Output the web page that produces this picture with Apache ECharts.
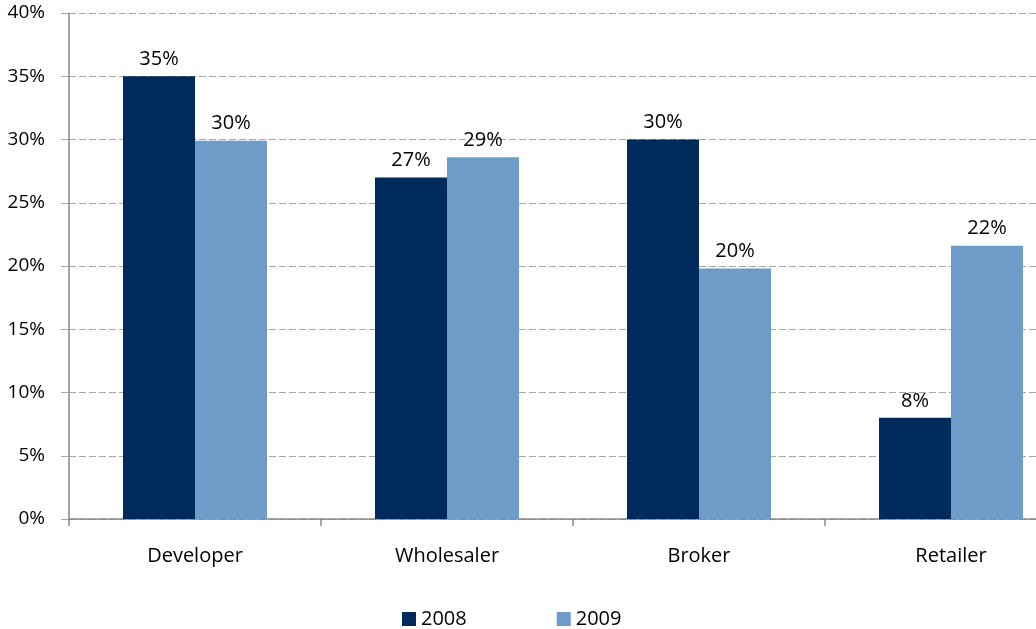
<!DOCTYPE html>
<html>
<head>
<meta charset="utf-8">
<script src="https://cdn.jsdelivr.net/npm/echarts@6/dist/echarts.min.js"></script>
<style>
  html, body { margin: 0; padding: 0; background: #fff; }
  #chart { width: 1036px; height: 629px; }
</style>
</head>
<body>
<div id="chart"></div>
<script>
// chart data
const categories = ['Developer', 'Wholesaler', 'Broker', 'Retailer'];
const values2008 = [35, 27, 30, 8];
const values2009 = [29.9, 28.6, 19.8, 21.6];
const yTicks = [0, 5, 10, 15, 20, 25, 30, 35, 40];

const font = 'Open Sans';

let chart = echarts.init(document.getElementById('chart'));

function barLabel() {
  return {
    show: true,
    position: 'top',
    distance: 7,
    color: '#000',
    fontFamily: font,
    fontSize: 20,
    formatter: p => Math.round(p.value) + '%'
  };
}

// plot area runs past the right edge like the original (cropped)
chart.setOption({
  animation: false,
  textStyle: { fontFamily: font },
  grid: { left: 69, width: 1008, top: 13, height: 506, outerBoundsMode: 'none' },
  legend: {
    top: 604,
    left: 397,
    itemWidth: 14,
    itemHeight: 14,
    itemGap: 90,
    icon: 'rect',
    textStyle: { fontFamily: font, fontSize: 20, color: '#000' },
    data: ['2008', '2009']
  },
  xAxis: {
    type: 'category',
    data: categories,
    axisLine: { lineStyle: { color: '#868686', width: 1.5 } },
    axisTick: { show: true, length: 7, lineStyle: { color: '#868686', width: 1.5 } },
    axisLabel: { color: '#000', fontSize: 20, fontFamily: font, margin: 27 }
  },
  yAxis: {
    type: 'value',
    min: yTicks[0],
    max: yTicks[yTicks.length - 1],
    interval: 5,
    axisLine: { show: true, lineStyle: { color: '#868686', width: 1.5 } },
    axisTick: { show: true, length: 8, lineStyle: { color: '#A6A6A6' } },
    splitLine: { lineStyle: { color: '#A6A6A6', width: 1.2, type: [7, 3] } },
    axisLabel: { color: '#000', fontSize: 19, fontFamily: font, margin: 24, formatter: v => v + '%' }
  },
  series: [
    {
      name: '2008',
      type: 'bar',
      data: values2008,
      barGap: '0%',
      barWidth: 72,
      itemStyle: { color: '#00295C' },
      label: barLabel()
    },
    {
      name: '2009',
      type: 'bar',
      data: values2009,
      barWidth: 72,
      itemStyle: { color: '#6E9CC9' },
      label: barLabel()
    }
  ]
});
</script>
</body>
</html>
